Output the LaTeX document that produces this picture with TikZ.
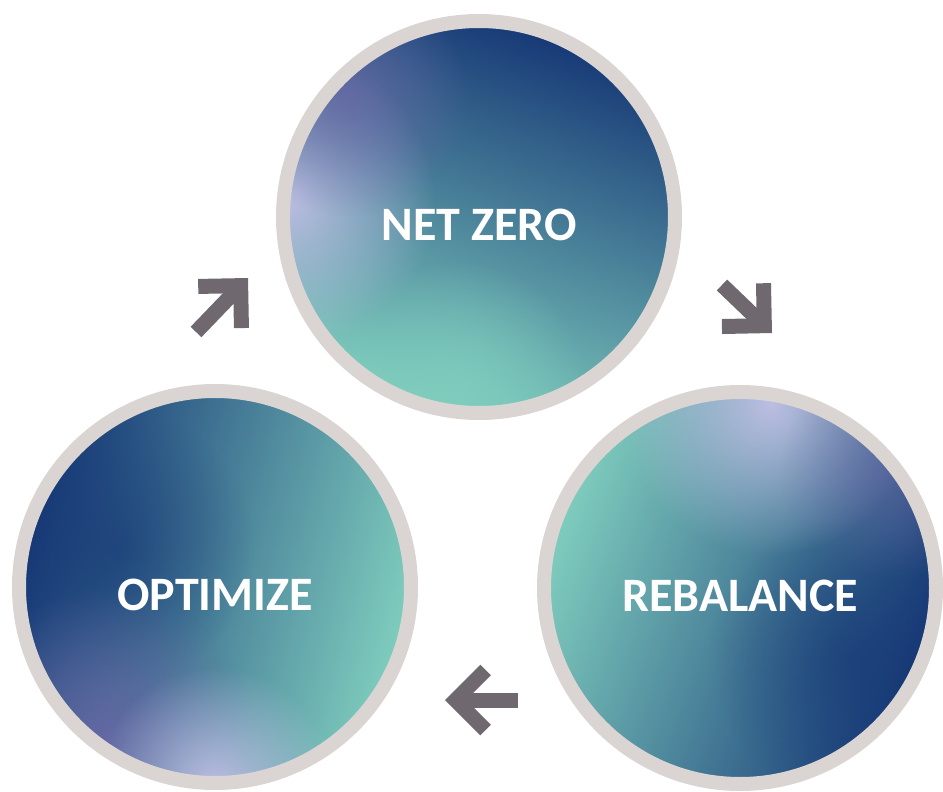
\documentclass[tikz,border=0pt]{standalone}
\usepackage{fontspec}
\setmainfont{Carlito}
\usetikzlibrary{arrows.meta,fadings}

\definecolor{ring}{RGB}{218,213,210}
\definecolor{navy}{RGB}{22,56,118}
\definecolor{steel}{RGB}{44,102,148}
\definecolor{ocean}{RGB}{48,120,160}
\definecolor{mint}{RGB}{128,206,190}
\definecolor{lavender}{RGB}{188,190,226}
\definecolor{plum}{RGB}{104,104,166}
\definecolor{chevron}{RGB}{111,105,111}

% soft round blob, used to tint parts of the discs
\tikzfading[name=spot, inner color=transparent!0, outer color=transparent!100]

\begin{document}
\begin{tikzpicture}[
  x=1pt, y=-1pt,
  disc/.style={circle, draw=ring, line width=14pt, minimum size=392pt, inner sep=0pt,
    text=white, font=\bfseries\fontsize{48}{54}\selectfont, text height=47pt},
  % the three colour washes
  washtop/.style={path picture={
    \shade[top color=navy, middle color=steel, bottom color=mint, shading angle=-20]
      (path picture bounding box.south west) rectangle (path picture bounding box.north east);
    \fill[lavender, path fading=spot] ([shift={(-194,-17)}]path picture bounding box.center) circle (150pt);
    \fill[plum, path fading=spot, opacity=0.8] ([shift={(-130,-120)}]path picture bounding box.center) circle (120pt);
    \fill[mint, path fading=spot, opacity=0.8] ([shift={(-20,173)}]path picture bounding box.center) circle (130pt);}},
  washleft/.style={path picture={
    \shade[left color=navy, middle color=ocean, right color=mint, shading angle=75]
      (path picture bounding box.south west) rectangle (path picture bounding box.north east);
    \fill[navy, path fading=spot, opacity=0.6] ([shift={(-100,-40)}]path picture bounding box.center) circle (140pt);
    \fill[plum, path fading=spot, opacity=0.9] ([shift={(-110,150)}]path picture bounding box.center) circle (150pt);
    \fill[lavender, path fading=spot] ([shift={(0,200)}]path picture bounding box.center) circle (120pt);}},
  washright/.style={path picture={
    \shade[left color=mint, middle color=ocean, right color=navy, shading angle=70]
      (path picture bounding box.south west) rectangle (path picture bounding box.north east);
    \fill[navy, path fading=spot, opacity=0.6] ([shift={(110,70)}]path picture bounding box.center) circle (140pt);
    \fill[lavender, path fading=spot] ([shift={(30,-183)}]path picture bounding box.center) circle (150pt);
    \fill[plum, path fading=spot, opacity=0.6] ([shift={(150,-118)}]path picture bounding box.center) circle (110pt);}},
  arrow/.style={draw=chevron, line width=15pt,
    -{Straight Barb[length=30pt, width=60pt, line cap=butt, line join=miter]}}]

  \useasboundingbox (0,0) rectangle (943,792);

  % discs
  \node[disc, washtop]   (netzero)   at (479,217) {NET ZERO};
  \node[disc, washleft]  (optimize)  at (215,587) {OPTIMIZE};
  \node[disc, washright] (rebalance) at (740,588) {REBALANCE};

  % arrow ends
  \coordinate (ne-tail) at (196,332);
  \coordinate (ne-tip)  at (248,278);
  \coordinate (se-tail) at (722,285);
  \coordinate (se-tip)  at (772,333);
  \coordinate (w-tail)  at (518,700);
  \coordinate (w-tip)   at (445,700);

  % arrows
  \draw[arrow] (ne-tail) -- (ne-tip);
  \draw[arrow] (se-tail) -- (se-tip);
  \draw[arrow] (w-tail)  -- (w-tip);
\end{tikzpicture}
\end{document}
